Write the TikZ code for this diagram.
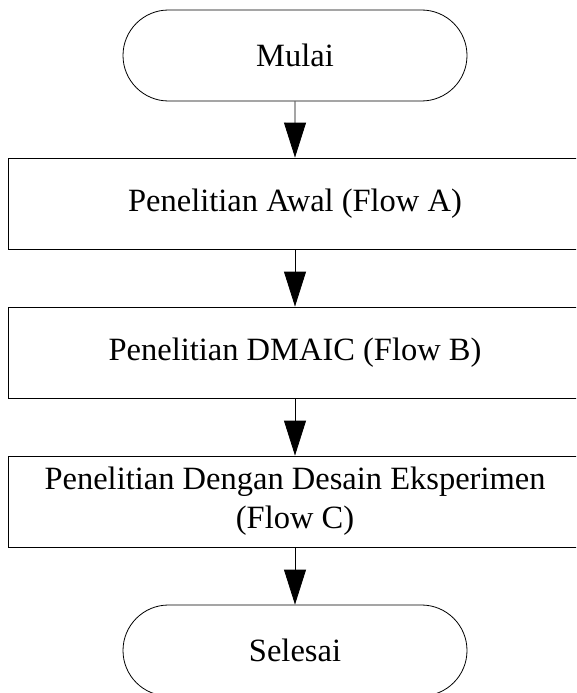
\documentclass[tikz,border=0pt]{standalone}
\usepackage{fontspec}
\setmainfont{Liberation Serif}
\usetikzlibrary{shapes.misc,arrows.meta}
\begin{document}
\begin{tikzpicture}[x=1pt,y=-1pt,
 term/.style={draw, rounded rectangle, minimum width=344pt, minimum height=91pt, line width=0.8pt, inner sep=0pt},
 proc/.style={draw, rectangle, minimum width=574pt, minimum height=91pt, line width=0.8pt, align=center, inner sep=0pt},
 flow/.style={-{Triangle[length=35pt,width=22pt]}, line width=0.8pt},
 font=\fontsize{32.5}{39}\selectfont]
\useasboundingbox (0,0) rectangle (576,693);
\clip (0,0) rectangle (576,693);
\node[term] (start) at (295,55.5) {Mulai};
\node[proc] (a) at (295,203.5) {Penelitian Awal (Flow A)};
\node[proc] (b) at (295,352.5) {Penelitian DMAIC (Flow B)};
\node[proc] (c) at (295,501.5) {Penelitian Dengan Desain Eksperimen\\(Flow C)};
\node[term] (end) at (295,650.5) {Selesai};
\draw[flow] (start) -- (a);
\draw[flow] (a) -- (b);
\draw[flow] (b) -- (c);
\draw[flow] (c) -- (end);
\end{tikzpicture}
\end{document}
